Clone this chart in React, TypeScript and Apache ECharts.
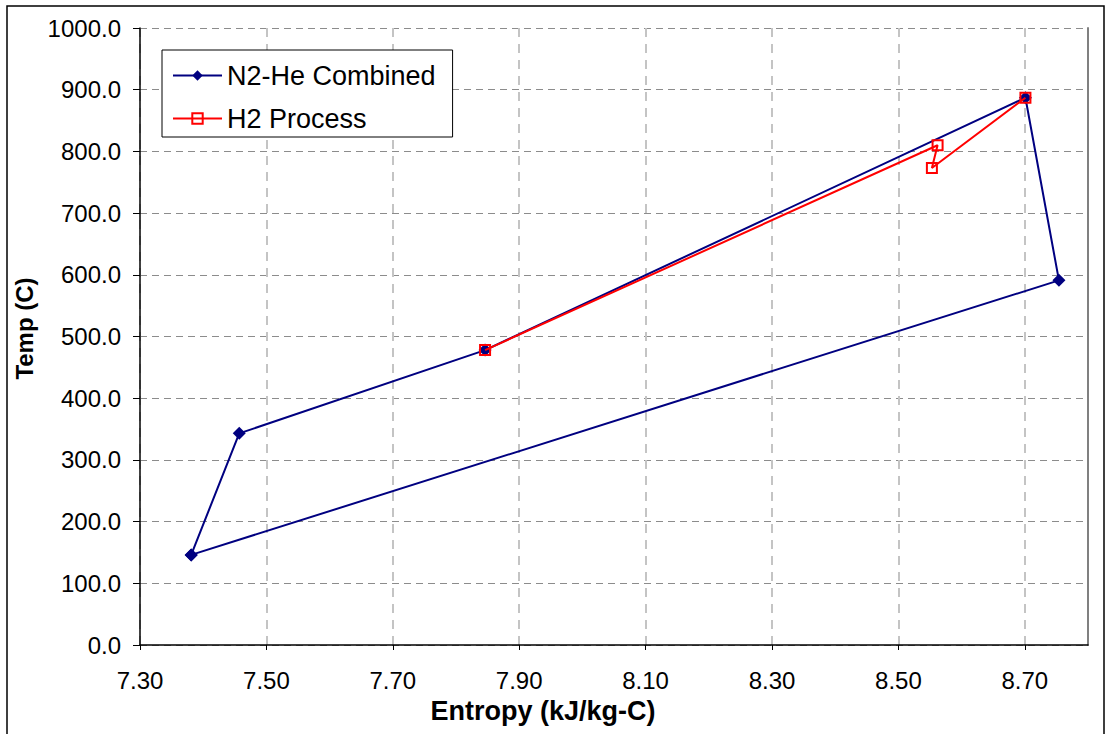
import React, { useEffect, useRef } from "react";
import * as echarts from "echarts";

const n2HeEntropy = [7.381, 7.457, 7.846, 8.701, 8.754, 7.381];
const n2HeTemp = [146, 343, 478, 887, 591, 146];
const h2Entropy = [7.846, 8.562, 8.553, 8.701];
const h2Temp = [478, 810, 773, 887];

const xMin = 7.3;
const xMax = 8.8;
const xStep = 0.2;
const yMin = 0;
const yMax = 1000;
const yStep = 100;

const FONT = "'Liberation Sans', Arial, sans-serif";

export default function App() {
  const ref = useRef<HTMLDivElement>(null);
  useEffect(() => {
    if (!ref.current) return;
    const chart = echarts.init(ref.current, null, { renderer: "svg" });
    const n2 = n2HeEntropy.map((x, i) => [x, n2HeTemp[i]]);
    const h2 = h2Entropy.map((x, i) => [x, h2Temp[i]]);
    chart.setOption({
      animation: false,
      backgroundColor: "#ffffff",
      textStyle: { fontFamily: FONT },
      grid: {
        left: 140,
        top: 28,
        width: 948,
        height: 617,
        containLabel: false,
        outerBoundsMode: "none",
      },
      graphic: [
        {
          type: "rect",
          shape: { x: 7, y: 6, width: 1097, height: 740 },
          style: { fill: "none", stroke: "#000", lineWidth: 1.5 },
          silent: true,
        },
      ],
      legend: {
        orient: "vertical",
        left: 162,
        top: 50,
        padding: [12, 17, 5, 10],
        itemGap: 16,
        itemWidth: 49,
        itemHeight: 13,
        borderColor: "#000",
        borderWidth: 1,
        backgroundColor: "#fff",
        textStyle: { fontFamily: FONT, fontSize: 27, color: "#000" },
        data: ["N2-He Combined", "H2 Process"],
      },
      xAxis: {
        type: "value",
        min: xMin,
        max: xMax,
        interval: xStep,
        name: "Entropy (kJ/kg-C)",
        nameLocation: "middle",
        nameGap: 52,
        nameTextStyle: {
          fontFamily: FONT,
          fontSize: 27,
          fontWeight: "bold",
          color: "#000",
          padding: [0, 142, 0, 0],
        },
        axisLine: { show: true, onZero: false, lineStyle: { color: "#000", width: 1.5 } },
        axisTick: { show: true, length: 5, lineStyle: { color: "#000" } },
        axisLabel: {
          fontFamily: FONT,
          fontSize: 24,
          color: "#000",
          margin: 23,
          showMaxLabel: false,
          formatter: (v: number) => v.toFixed(2),
        },
        splitLine: {
          show: true,
          lineStyle: { color: "#c4c4c4", width: 2, type: [9, 7] },
        },
      },
      yAxis: [
        {
          type: "value",
          min: yMin,
          max: yMax,
          interval: yStep,
          name: "Temp (C)",
          nameLocation: "middle",
          nameGap: 92,
          nameTextStyle: {
            fontFamily: FONT,
            fontSize: 24,
            fontWeight: "bold",
            color: "#000",
            padding: [0, 0, 0, 16],
          },
          axisLine: { show: true, onZero: false, lineStyle: { color: "#000", width: 1.5 } },
          axisTick: { show: true, length: 7, lineStyle: { color: "#000" } },
          axisLabel: {
            fontFamily: FONT,
            fontSize: 24,
            color: "#000",
            margin: 19,
            formatter: (v: number) => v.toFixed(1),
          },
          splitLine: {
            show: true,
            lineStyle: { color: "#8c8c8c", width: 1, type: [7, 5] },
          },
        },
        {
          type: "value",
          position: "right",
          min: yMin,
          max: yMax,
          interval: yStep,
          axisLine: { show: true, lineStyle: { color: "#808080", width: 2 } },
          axisTick: { show: false },
          axisLabel: { show: false },
          splitLine: { show: false },
        },
      ],
      series: [
        {
          name: "N2-He Combined",
          type: "line",
          data: n2,
          symbol: "diamond",
          symbolSize: 13,
          showAllSymbol: true,
          lineStyle: { color: "#000080", width: 2 },
          itemStyle: { color: "#000080" },
          z: 3,
        },
        {
          name: "H2 Process",
          type: "line",
          data: h2,
          symbol: "rect",
          symbolSize: 10,
          showAllSymbol: true,
          lineStyle: { color: "#ff0000", width: 2 },
          itemStyle: { color: "rgba(255,255,255,0)", borderColor: "#ff0000", borderWidth: 2 },
          z: 4,
        },
      ],
    });
    return () => chart.dispose();
  }, []);
  return (
    <div
      ref={ref}
      style={{ position: "fixed", left: 0, top: 0, width: 1106, height: 734, background: "#fff" }}
    />
  );
}
